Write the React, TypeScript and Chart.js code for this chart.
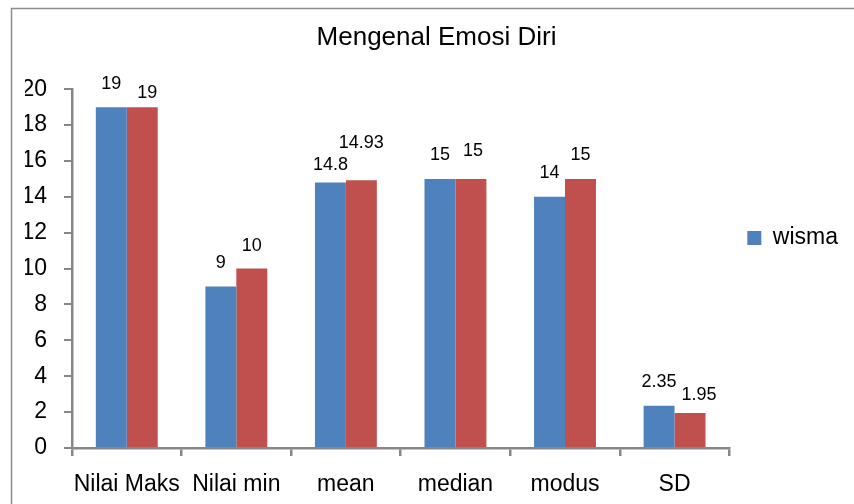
import React, { useEffect, useRef } from "react";
import { Chart, registerables } from "chart.js";

Chart.register(...registerables);

const categories = ["Nilai Maks", "Nilai min", "mean", "median", "modus", "SD"];
const wismaValues = [19, 9, 14.8, 15, 14, 2.35];
const secondValues = [19, 10, 14.93, 15, 15, 1.95];
const valueLabels0 = ["19", "9", "14.8", "15", "14", "2.35"];
const valueLabels1 = ["19", "10", "14.93", "15", "15", "1.95"];
const yTicks = [0, 2, 4, 6, 8, 10, 12, 14, 16, 18, 20];
const titleText = "Mengenal Emosi Diri";
const legendLabel = "wisma";

const FONT = "'Liberation Sans', Arial, sans-serif";
const AXIS_GRAY = "#878787";

const framePlugin = {
  id: "frame",
  beforeDraw(chart: any) {
    const ctx = chart.ctx;
    ctx.save();
    ctx.fillStyle = "#ffffff";
    ctx.fillRect(0, 0, chart.width, chart.height);
    ctx.strokeStyle = "#8c8c8c";
    ctx.lineWidth = 1.5;
    ctx.beginPath();
    ctx.moveTo(11.5, chart.height);
    ctx.lineTo(11.5, 8.5);
    ctx.lineTo(chart.width, 8.5);
    ctx.stroke();
    ctx.restore();
  },
};

const valueLabelPlugin = {
  id: "valueLabels",
  afterDatasetsDraw(chart: any, _args: any, opts: any) {
    const ctx = chart.ctx;
    ctx.save();
    ctx.font = `18px ${FONT}`;
    ctx.fillStyle = "#000000";
    ctx.textAlign = "center";
    ctx.textBaseline = "middle";
    const texts = [valueLabels0, valueLabels1];
    chart.data.datasets.forEach((_ds: any, di: number) => {
      const meta = chart.getDatasetMeta(di);
      meta.data.forEach((bar: any, i: number) => {
        const lift = opts.lift[di][i];
        const dx = opts.dx[di][i];
        ctx.fillText(texts[di][i], bar.x + dx, bar.y - lift);
      });
    });
    ctx.restore();
  },
};

export default function App() {
  const ref = useRef<HTMLCanvasElement | null>(null);

  useEffect(() => {
    if (!ref.current) return;
    const chart = new Chart(ref.current, {
      type: "bar",
      data: {
        labels: categories,
        datasets: [
          {
            label: legendLabel,
            data: wismaValues,
            backgroundColor: "#4F81BD",
            borderWidth: 0,
            barPercentage: 1,
            categoryPercentage: 0.565,
          },
          {
            label: "",
            data: secondValues,
            backgroundColor: "#C0504D",
            borderWidth: 0,
            barPercentage: 1,
            categoryPercentage: 0.565,
          },
        ],
      },
      options: {
        responsive: false,
        animation: false,
        layout: { padding: { left: 25, right: 6, top: -22, bottom: 6 } },
        plugins: {
          title: {
            display: true,
            text: titleText,
            color: "#000000",
            font: { family: FONT, size: 26, weight: "normal" },
            padding: { top: 44, bottom: 36 },
          },
          legend: {
            display: true,
            position: "right",
            labels: {
              boxWidth: 14,
              boxHeight: 14,
              padding: 18,
              color: "#000000",
              font: { family: FONT, size: 23 },
              filter: (item: any) => item.datasetIndex === 0,
            },
          },
          tooltip: { enabled: false },
          valueLabels: {
            lift: [
              [23, 24, 17, 24, 24, 24],
              [14, 23, 37, 28, 24, 18],
            ],
            dx: [
              [0, 0, 0, 0, 0, 0],
              [5, 0, 0, 2, 0, 9],
            ],
          },
        } as any,
        scales: {
          x: {
            offset: true,
            grid: {
              offset: true,
              drawOnChartArea: false,
              drawTicks: true,
              tickLength: 8,
              color: AXIS_GRAY,
              lineWidth: 2.5,
            },
            border: { display: true, color: AXIS_GRAY, width: 2.5 },
            ticks: {
              color: "#000000",
              font: { family: FONT, size: 23 },
              padding: 15,
              autoSkip: false,
              maxRotation: 0,
              minRotation: 0,
            },
            afterFit: (s: any) => {
              s.height = 50;
            },
          },
          y: {
            min: 0,
            max: 20,
            afterBuildTicks: (s: any) => {
              s.ticks = yTicks.map((v) => ({ value: v }));
            },
            grid: {
              drawOnChartArea: false,
              drawTicks: true,
              tickLength: 8,
              color: AXIS_GRAY,
              lineWidth: 2,
            },
            border: { display: true, color: AXIS_GRAY, width: 2.5 },
            ticks: {
              color: "#000000",
              font: { family: FONT, size: 23 },
              padding: 17,
            },
            afterFit: (s: any) => {
              s.width = 47;
            },
          },
        },
      },
      plugins: [framePlugin, valueLabelPlugin],
    });
    return () => chart.destroy();
  }, []);

  return (
    <div style={{ position: "fixed", left: 0, top: 0, width: 854, height: 504 }}>
      <canvas ref={ref} width={854} height={504} />
    </div>
  );
}
